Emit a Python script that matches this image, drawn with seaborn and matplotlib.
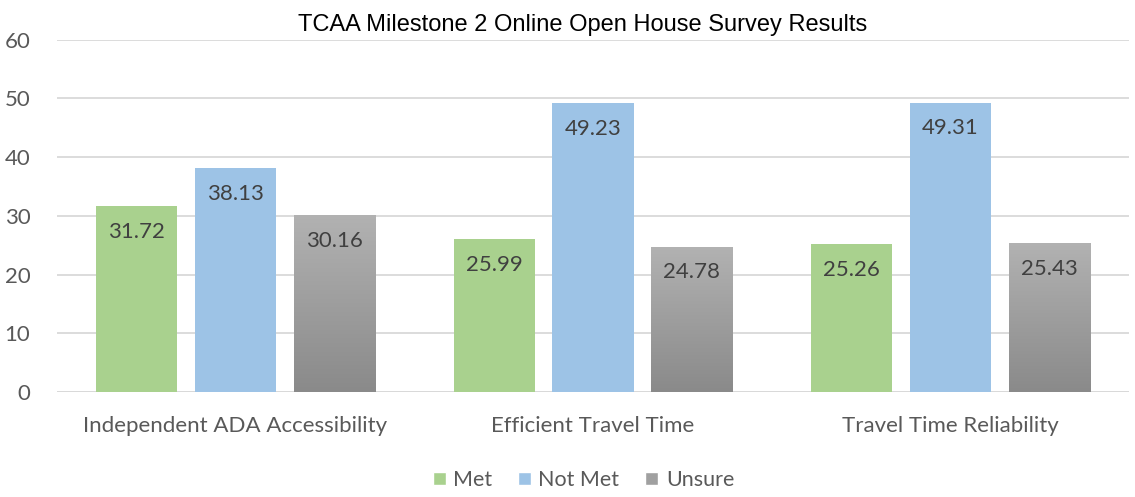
import numpy as np
import pandas as pd
import matplotlib
matplotlib.use("Agg")
import matplotlib.pyplot as plt
import seaborn as sns
from matplotlib.patches import Patch

categories = ["Independent ADA Accessibility", "Efficient Travel Time", "Travel Time Reliability"]
series = ["Met", "Not Met", "Unsure"]
met = [31.72, 25.99, 25.26]
not_met = [38.13, 49.23, 49.31]
unsure = [30.16, 24.78, 25.43]

df = pd.DataFrame({
    "category": categories * 3,
    "series": [series[0]] * 3 + [series[1]] * 3 + [series[2]] * 3,
    "value": met + not_met + unsure,
})

colors = {"Met": "#A9D18E", "Not Met": "#9DC3E6", "Unsure": "#A0A0A0"}

sns.set_theme(style="white")
plt.rcParams["font.family"] = ["Lato", "DejaVu Sans"]

fig = plt.figure(figsize=(11.35, 4.97), dpi=100)
ax = fig.add_axes([0.050, 0.211, 0.945, 0.709])

sns.barplot(data=df, x="category", y="value", hue="series", hue_order=series,
            order=categories, palette=colors, width=0.83, gap=0.18, ax=ax,
            legend=False, saturation=1, linewidth=0, zorder=3)

ax.set_ylim(0, 60)
ax.set_yticks(range(0, 61, 10))
ax.yaxis.grid(True, color="#D9D9D9", linewidth=1.3, zorder=0)
ax.set_axisbelow(True)
for s in ax.spines.values():
    s.set_visible(False)
ax.axhline(0, color="#D9D9D9", linewidth=1.3, zorder=2)
ax.set_xlabel("")
ax.set_ylabel("")
ax.tick_params(axis="y", labelsize=16, colors="#595959", length=0, pad=19)
ax.tick_params(axis="x", labelsize=16, colors="#595959", length=0, pad=17)

# gradient for Unsure bars
grad = np.linspace(0, 1, 256).reshape(-1, 1)
cmap = matplotlib.colors.LinearSegmentedColormap.from_list("g", ["#8A8A8A", "#B2B2B2"])
n = len(categories)
patches = ax.patches
for i, p in enumerate(patches):
    x0, y0 = p.get_x(), p.get_y()
    w, h = p.get_width(), p.get_height()
    if h <= 0:
        continue
    ax.text(x0 + w / 2, y0 + h - 2.7, f"{h:.2f}", ha="center", va="top",
            fontsize=16, color="#404040", zorder=6)
    if i >= 2 * n:
        im = ax.imshow(grad, cmap=cmap, aspect="auto", origin="lower",
                       extent=[x0, x0 + w, y0, y0 + h], zorder=4)
        im.set_clip_path(p)
ax.set_xlim(-0.5, n - 0.5)
ax.set_ylim(0, 60)

ax.set_title("TCAA Milestone 2 Online Open House Survey Results",
             fontsize=17, family="Liberation Sans", color="#000000", pad=6, x=0.49)

handles = [Patch(facecolor=colors[s], label=s) for s in series]
fig.legend(handles=handles, loc="lower center", ncol=3, frameon=False,
           bbox_to_anchor=(0.514, -0.025), fontsize=15.5, handlelength=0.6,
           handleheight=0.6, handletextpad=0.35, columnspacing=1.2,
           labelcolor="#595959")

fig.savefig("out.png", dpi=100)
